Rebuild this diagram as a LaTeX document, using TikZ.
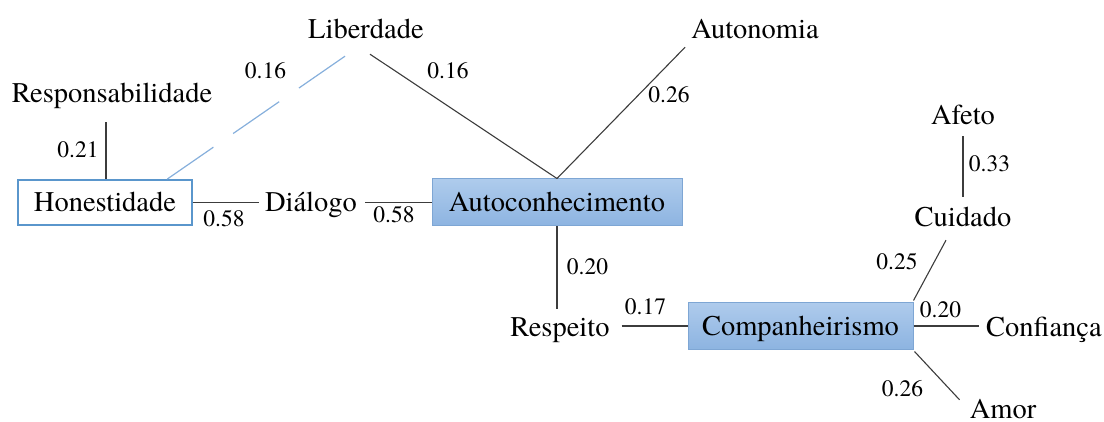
\documentclass[tikz,border=0pt]{standalone}
\usepackage{fontspec}
\setmainfont{TeX Gyre Termes}
\usetikzlibrary{calc}
\definecolor{linegray}{HTML}{3C3C3C}
\definecolor{hollowblue}{HTML}{5A96CC}
\definecolor{dashblue}{HTML}{86AFDC}
\definecolor{filltop}{HTML}{AECBEC}
\definecolor{fillbot}{HTML}{8DB4E1}
\definecolor{filldraw}{HTML}{7EA6D4}
\begin{document}
\begin{tikzpicture}[x=1pt,y=-1pt,
  word/.style={font=\fontsize{28.5}{34}\selectfont, inner sep=0pt, text height=19pt, text depth=6pt, anchor=base},
  num/.style={font=\fontsize{23.5}{28}\selectfont, inner sep=0pt, anchor=base},
  boxbase/.style={font=\fontsize{28.5}{34}\selectfont, inner sep=0pt, text height=19pt, text depth=0pt, anchor=center},
  hollowbox/.style={boxbase, draw=hollowblue, line width=1.5pt, fill=white},
  filledbox/.style={boxbase, draw=filldraw, line width=1pt, top color=filltop, bottom color=fillbot},
  edge/.style={draw=linegray, line width=1.1pt},
  dashedge/.style={draw=dashblue, line width=1.2pt, dash pattern=on 56pt off 24pt}]
\useasboundingbox (0,0) rectangle (1104,422);

% words
\node[word] (lib) at (366,39) {Liberdade};
\node[word] (aut) at (755,39) {Autonomia};
\node[word] (resp) at (112,103) {Responsabilidade};
\node[word] (dia) at (311,212) {Diálogo};
\node[word] (resq) at (560,337) {Respeito};
\node[word] (afe) at (963,125) {Afeto};
\node[word] (cui) at (963,227) {Cuidado};
\node[word] (conf) at (1044,337) {Confiança};
\node[word] (amor) at (1003,418) {Amor};

% boxes
\node[hollowbox, minimum width=174pt, minimum height=45pt] (hon) at (105,202.5) {Honestidade};
\node[filledbox, minimum width=250pt, minimum height=47pt] (auto) at (557,202.5) {Autoconhecimento};
\node[filledbox, minimum width=225pt, minimum height=46pt] (comp) at (800.5,326) {Companheirismo};

% connectors
\draw[edge] ($(resp.south)+(-6,13)$) -- ($(hon.north)+(1,0)$);
\draw[dashedge] ($(lib.south)+(-21,11)$) -- ($(hon.north)+(62,0)$);
\draw[edge] ($(lib.south)+(4,9)$) -- (auto.north);
\draw[edge] ($(aut.south west)+(-6,2)$) -- (auto.north);
\draw[edge, shorten >=6pt] (hon.east) -- (hon.east -| dia.west);
\draw[edge, shorten <=8pt] (auto.west -| dia.east) -- (auto.west);
\draw[edge, shorten >=9pt] (auto.south) -- (auto.south |- resq.north);
\draw[edge, shorten <=12pt] (comp.west -| resq.east) -- (comp.west);
\draw[edge] ($(comp.north east)+(0,-2)$) -- ($(cui.south)+(-17,7)$);
\draw[edge] ($(afe.south)+(0,5)$) -- ($(cui.north)+(0,-11)$);
\draw[edge, shorten >=7pt] (comp.east) -- (comp.east -| conf.west);
\draw[edge] ($(comp.south east)+(1,2)$) -- ($(amor.north west)+(-10,1)$);

% weights
\node[num] (w1) at (265.5,79) {0.16};
\node[num] (w2) at (448,79) {0.16};
\node[num] (w3) at (78,158) {0.21};
\node[num] (w4) at (669,103) {0.26};
\node[num] (w5) at (224,227) {0.58};
\node[num] (w6) at (394,223) {0.58};
\node[num] (w7) at (587.5,275) {0.20};
\node[num] (w8) at (645.5,315) {0.17};
\node[num] (w9) at (989.5,172) {0.33};
\node[num] (w10) at (897,270) {0.25};
\node[num] (w11) at (940.5,317) {0.20};
\node[num] (w12) at (902.5,396) {0.26};
\end{tikzpicture}
\end{document}
